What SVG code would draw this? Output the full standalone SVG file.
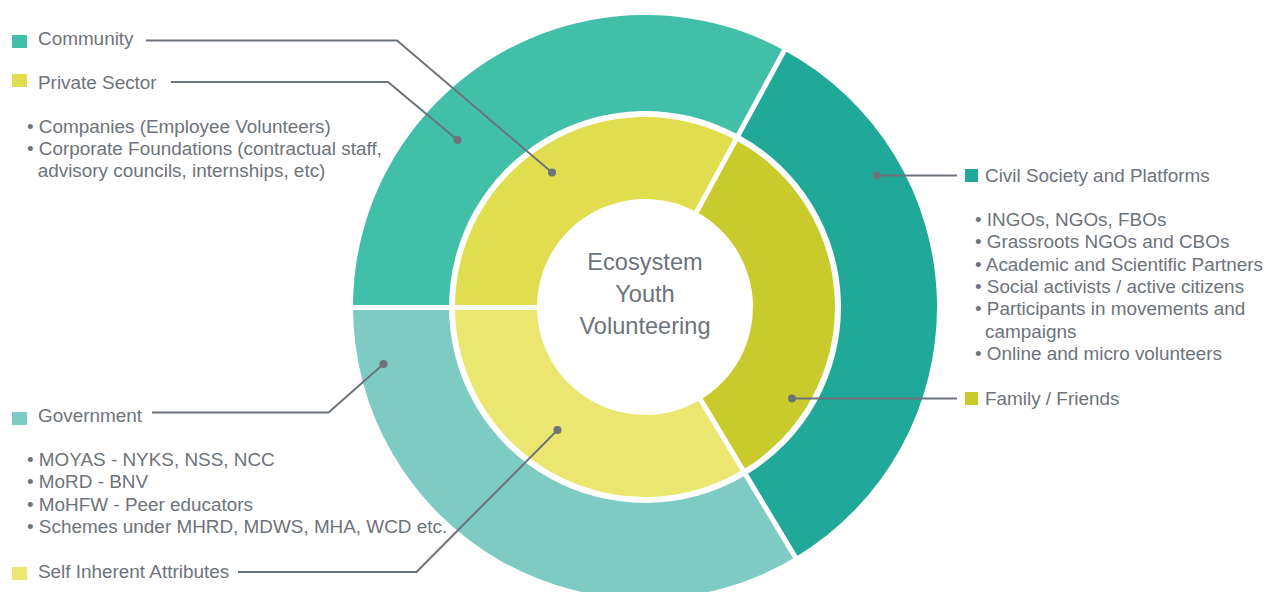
<svg xmlns="http://www.w3.org/2000/svg" width="1264" height="592" viewBox="0 0 1264 592">
<style>
text{font-family:"Liberation Sans",Arial,sans-serif;fill:#6D737A;}
.lbl{font-size:18.9px;}
.ctr{font-size:23.6px;text-anchor:middle;}
.conn{fill:none;stroke:#6D737A;stroke-width:2;}
.dot{fill:#6D737A;}
.sep{stroke:#fff;stroke-width:5;}
</style>
<rect width="1264" height="592" fill="#fff"/>
<g id="ring-outer">
<path id="seg-community" fill="#42BFA8" d="M353 307 A292 292 0 0 1 784.34 50.39 L738.53 134.76 A196 196 0 0 0 449 307 Z"/>
<path id="seg-civil" fill="#20A899" d="M784.34 50.39 A292 292 0 0 1 795.38 557.30 L745.94 475.01 A196 196 0 0 0 738.53 134.76 Z"/>
<path id="seg-government" fill="#7ECBC3" d="M795.38 557.30 A292 292 0 0 1 353 307 L449 307 A196 196 0 0 0 745.94 475.01 Z"/>
</g>
<g id="ring-inner">
<path id="seg-private" fill="#E0DE4E" d="M455 307 A190 190 0 0 1 735.67 140.03 L696.54 212.09 A108 108 0 0 0 537 307 Z"/>
<path id="seg-family" fill="#C9CB2D" d="M735.67 140.03 A190 190 0 0 1 742.85 469.87 L700.62 399.58 A108 108 0 0 0 696.54 212.09 Z"/>
<path id="seg-self" fill="#EAE670" d="M742.85 469.87 A190 190 0 0 1 455 307 L537 307 A108 108 0 0 0 700.62 399.58 Z"/>
</g>
<g id="separators">
<line class="sep" x1="692.72" y1="219.12" x2="788.16" y2="43.36"/>
<line class="sep" x1="696.5" y1="392.72" x2="799.5" y2="564.16"/>
<line class="sep" x1="545" y1="307.5" x2="345" y2="307.5"/>
</g>
<g id="center">
<text class="ctr" x="645" y="270">Ecosystem</text>
<text class="ctr" x="645" y="302">Youth</text>
<text class="ctr" x="645" y="334">Volunteering</text>
</g>
<g id="connectors">
<path class="conn" d="M146 40.5 H397 L552 172.5"/>
<path class="conn" d="M171 82 H388 L457.5 140"/>
<path class="conn" d="M877 175.5 H957"/>
<path class="conn" d="M792 398.5 H957"/>
<path class="conn" d="M152 412.5 H328.5 L383.5 364"/>
<path class="conn" d="M238 572 H416.5 L557.5 430"/>
<circle class="dot" cx="552" cy="172.5" r="4"/>
<circle class="dot" cx="457.5" cy="140" r="4"/>
<circle class="dot" cx="877" cy="175.5" r="4"/>
<circle class="dot" cx="792" cy="398.5" r="4"/>
<circle class="dot" cx="383.5" cy="364" r="4"/>
<circle class="dot" cx="557.5" cy="430" r="4"/>
</g>
<g id="legend-community">
<rect x="12" y="35" width="15" height="13" fill="#42BFA8"/>
<text class="lbl" x="38" y="44.5">Community</text>
</g>
<g id="legend-private">
<rect x="12" y="74" width="15" height="13" fill="#E0DE4E"/>
<text class="lbl" x="38" y="89.3">Private Sector</text>
<text class="lbl" x="27" y="132.7">• Companies (Employee Volunteers)</text>
<text class="lbl" x="27" y="155">• Corporate Foundations (contractual staff,</text>
<text class="lbl" x="37.7" y="177.3">advisory councils, internships, etc)</text>
</g>
<g id="legend-government">
<rect x="12" y="412" width="15" height="13" fill="#7ECBC3"/>
<text class="lbl" x="38" y="421.7">Government</text>
<text class="lbl" x="27" y="466">• MOYAS - NYKS, NSS, NCC</text>
<text class="lbl" x="27" y="488.3">• MoRD - BNV</text>
<text class="lbl" x="27" y="510.7">• MoHFW - Peer educators</text>
<text class="lbl" x="27" y="533">• Schemes under MHRD, MDWS, MHA, WCD etc.</text>
</g>
<g id="legend-self">
<rect x="12" y="567" width="15" height="13" fill="#EAE670"/>
<text class="lbl" x="38" y="577.7">Self Inherent Attributes</text>
</g>
<g id="legend-civil">
<rect x="965" y="169" width="13" height="13" fill="#20A899"/>
<text class="lbl" x="985" y="181.7">Civil Society and Platforms</text>
<text class="lbl" x="975" y="226">• INGOs, NGOs, FBOs</text>
<text class="lbl" x="975" y="248.3">• Grassroots NGOs and CBOs</text>
<text class="lbl" x="975" y="270.6">• Academic and Scientific Partners</text>
<text class="lbl" x="975" y="293">• Social activists / active citizens</text>
<text class="lbl" x="975" y="315.3">• Participants in movements and</text>
<text class="lbl" x="985" y="337.6">campaigns</text>
<text class="lbl" x="975" y="360">• Online and micro volunteers</text>
</g>
<g id="legend-family">
<rect x="965" y="392" width="13" height="13" fill="#C9CB2D"/>
<text class="lbl" x="985" y="405">Family / Friends</text>
</g>
</svg>
